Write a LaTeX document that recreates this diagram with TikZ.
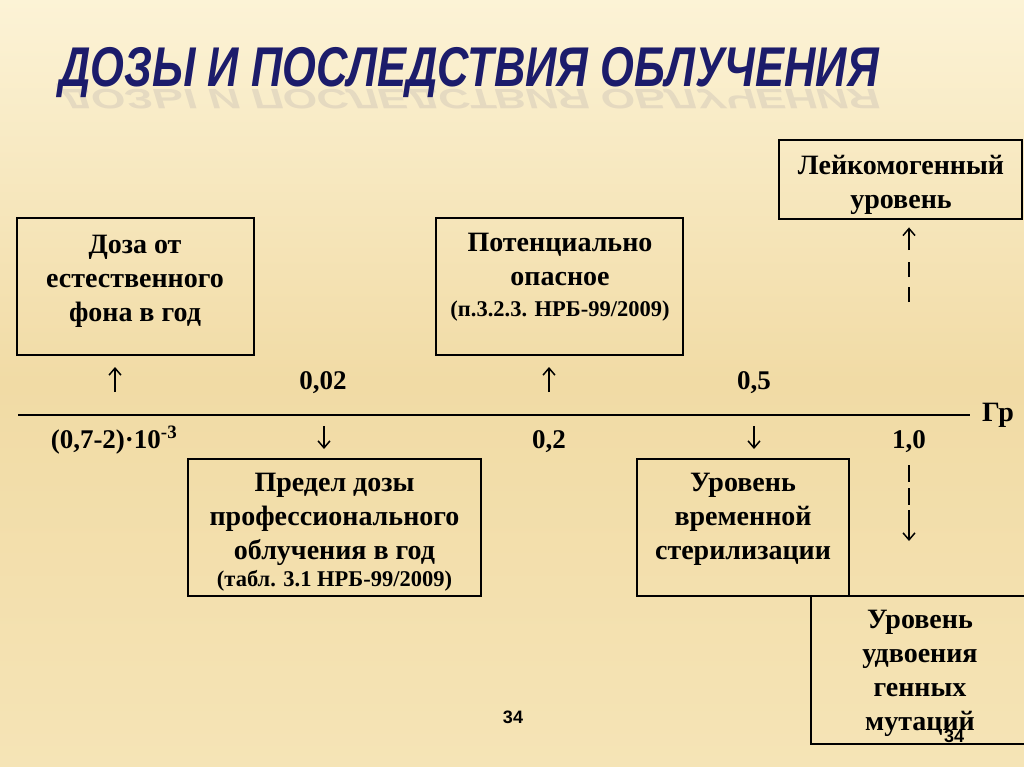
\documentclass[tikz,border=0pt]{standalone}
\usepackage{fontspec}
\setmainfont{Liberation Serif}
\newfontfamily\titlefont{Liberation Sans}
\usetikzlibrary{arrows.meta}
\definecolor{bgtop}{HTML}{FCF3D6}
\definecolor{bgmid}{HTML}{F1DBA5}
\definecolor{bgbot}{HTML}{F5E4B6}
\definecolor{titleblue}{HTML}{1C1C6B}
\begin{document}
\begin{tikzpicture}[x=1pt,y=-1pt,
  box/.style={draw=black, line width=2.8pt, inner sep=0pt},
  txt/.style={font=\fontsize{28}{34}\selectfont\bfseries, align=center, inner sep=0pt, anchor=north, text=black},
  small/.style={font=\fontsize{22.5}{25}\selectfont\bfseries, inner sep=0pt, anchor=base, text=black},
  lbl/.style={font=\fontsize{27}{30}\selectfont\bfseries, inner sep=0pt, anchor=base, text=black},
  pagenum/.style={font=\titlefont\fontsize{18}{20}\selectfont\bfseries, inner sep=0pt, text=black},
  dashline/.style={draw=black, line width=1.5pt},
  arrowline/.style={draw=black, line width=1.5pt, -{Straight Barb[length=7pt,width=12pt]}}
]
\useasboundingbox (0,0) rectangle (1024,767);
\clip (0,0) rectangle (1024,767);
\shade[top color=bgtop, bottom color=bgbot, middle color=bgmid] (0,0) rectangle (1024,767);

% title and its reflection
\node[anchor=base west, inner sep=0pt, text=titleblue, font=\titlefont\fontsize{56}{56}\selectfont\bfseries\itshape] (title) at (59,87) {\scalebox{0.776}[1]{ДОЗЫ И ПОСЛЕДСТВИЯ ОБЛУЧЕНИЯ}};
\node[anchor=base west, inner sep=0pt, text=titleblue, opacity=0.09, font=\titlefont\fontsize{56}{56}\selectfont\bfseries\itshape] (titlerefl) at (59,90) {\scalebox{0.776}[-0.5]{ДОЗЫ И ПОСЛЕДСТВИЯ ОБЛУЧЕНИЯ}};

% boxes
\node[box, minimum width=237pt, minimum height=137pt] (bFon) at (135.5,286.5) {};
\node[box, minimum width=247pt, minimum height=137pt] (bPot) at (559.5,286.5) {};
\node[box, minimum width=243pt, minimum height=79pt] (bLeuk) at (900.5,179.5) {};
\node[box, minimum width=293pt, minimum height=137pt] (bPred) at (334.5,527.5) {};
\node[box, minimum width=212pt, minimum height=137pt] (bSter) at (743,527.5) {};
\node[box, minimum width=229pt, minimum height=148pt] (bDbl) at (925.5,670) {};

% box texts
\node[txt] (tFon) at (135,235) {Доза от\\естественного\\фона в год};
\node[txt] (tPot) at (560,233) {Потенциально\\опасное};
\node[small] (tPotRef) at (560,316) {(п.3.2.3. НРБ-99/2009)};
\node[txt] (tLeuk) at (901,155) {Лейкомогенный\\уровень};
\node[txt] (tPred) at (334.5,473) {Предел дозы\\профессионального\\облучения в год};
\node[small] (tPredRef) at (334.5,586) {(табл. 3.1 НРБ-99/2009)};
\node[txt] (tSter) at (743,473) {Уровень\\временной\\стерилизации};
\node[txt] (tDbl) at (920,610) {Уровень\\удвоения\\генных\\мутаций};

% axis
\coordinate (axL) at (18,415);
\coordinate (axR) at (970,415);
\draw[line width=2pt] (axL) -- (axR);
\node[lbl, font=\fontsize{28}{30}\selectfont\bfseries] (gr) at (998,421) {Гр};

% labels above axis
\node[lbl] (n002) at (323,389) {0,02};
\node[lbl] (n05) at (754,389) {0,5};
% labels below axis
\node[lbl] (nlow) at (114,448) {(0,7-2)·10\textsuperscript{-3}};
\node[lbl] (n02) at (549,448) {0,2};
\node[lbl] (n10) at (909,448) {1,0};

% short arrows above and below the axis
\coordinate (up1a) at (115,392);
\coordinate (up1b) at (115,367);
\coordinate (up2a) at (549,392);
\coordinate (up2b) at (549,367);
\coordinate (dn1a) at (324,426);
\coordinate (dn1b) at (324,449);
\coordinate (dn2a) at (754,426);
\coordinate (dn2b) at (754,449);
\draw[arrowline] (up1a) -- (up1b);
\draw[arrowline] (up2a) -- (up2b);
\draw[arrowline] (dn1a) -- (dn1b);
\draw[arrowline] (dn2a) -- (dn2b);

% dashed arrow up to the leukomogenic box
\coordinate (lkA) at (909,302);
\coordinate (lkB) at (909,262);
\coordinate (lkC) at (909,250);
\draw[dashline, dash pattern=on 15pt off 10pt] (lkA) -- (lkB);
\draw[arrowline, shorten >=7pt] (lkC) -- (lkC |- bLeuk.south);

% dashed arrow down from 1,0
\coordinate (dA) at (909,465);
\coordinate (dB) at (909,505);
\coordinate (dC) at (909,510);
\coordinate (dD) at (909,541);
\draw[dashline, dash pattern=on 17pt off 6pt] (dA) -- (dB);
\draw[arrowline] (dC) -- (dD);

% page numbers
\node[pagenum] (pg1) at (513,717) {34};
\node[pagenum] (pg2) at (954,736) {34};
\end{tikzpicture}
\end{document}
